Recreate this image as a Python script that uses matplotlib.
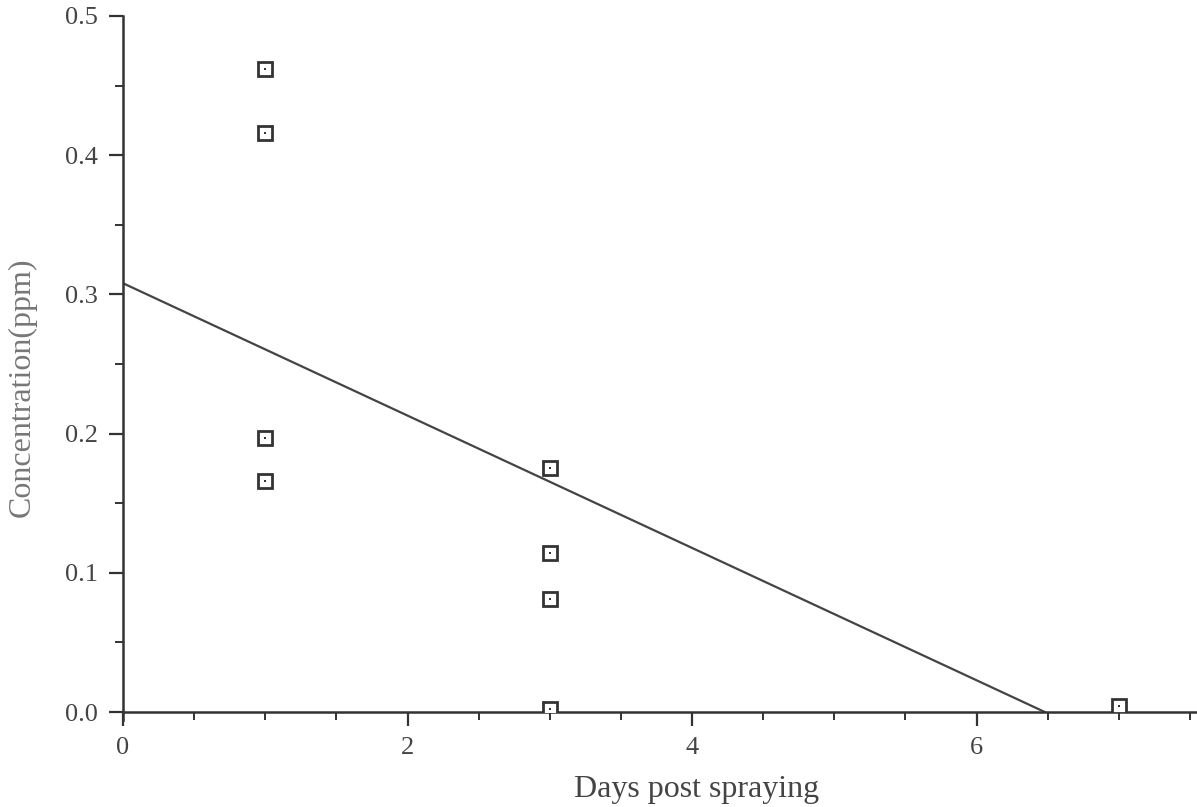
import matplotlib
matplotlib.use("Agg")
import matplotlib.pyplot as plt
from matplotlib.ticker import MultipleLocator, FormatStrFormatter

# Data
days = [1, 1, 1, 1, 3, 3, 3, 3, 7]
conc = [0.462, 0.416, 0.197, 0.166, 0.175, 0.114, 0.081, 0.002, 0.004]
fit_x = [0.0, 6.48]
fit_y = [0.308, 0.0]
xticks = [0, 2, 4, 6]
yticks = [0.0, 0.1, 0.2, 0.3, 0.4, 0.5]

plt.rcParams['font.family'] = ['Liberation Serif', 'DejaVu Serif']
ink = '#333333'

fig = plt.figure(figsize=(11.97, 8.07), dpi=100)
ax = fig.add_axes([0.1028, 0.1177, 0.8972, 0.8625])

ax.plot(fit_x, fit_y, color='#444444', lw=1.6, zorder=2)
ax.plot(days, conc, ls='none', marker='s', ms=9.5, mfc='white', mec=ink, mew=2.0, zorder=3)
ax.plot(days, conc, ls='none', marker='s', ms=2.0, mfc=ink, mec=ink, mew=0, zorder=4)

ax.set_xlim(0, 7.55)
ax.set_ylim(0, 0.5)
ax.set_xticks(xticks)
ax.set_yticks(yticks)
ax.xaxis.set_minor_locator(MultipleLocator(0.5))
ax.yaxis.set_minor_locator(MultipleLocator(0.05))
ax.yaxis.set_major_formatter(FormatStrFormatter('%.1f'))

for s in ['top', 'right']:
    ax.spines[s].set_visible(False)
for s in ['left', 'bottom']:
    ax.spines[s].set_color(ink)
    ax.spines[s].set_linewidth(1.8)
ax.spines['left'].set_bounds(-0.006, 0.5)

ax.tick_params(axis='both', which='major', direction='out', length=10, width=1.6, color=ink,
               labelsize=19, labelcolor='#444444')
ax.tick_params(axis='both', which='minor', direction='out', length=6, width=1.4, color=ink)
ax.tick_params(axis='x', which='major', pad=8)
ax.tick_params(axis='y', which='major', pad=8)

ax.set_xlabel('Days post spraying', fontsize=23, color='#444444')
ax.xaxis.set_label_coords(0.534, -0.09)
ax.set_ylabel('Concentration(ppm)', fontsize=23, color='#777777')
ax.yaxis.set_label_coords(-0.08, 0.466)

fig.savefig('out.png', dpi=100)
